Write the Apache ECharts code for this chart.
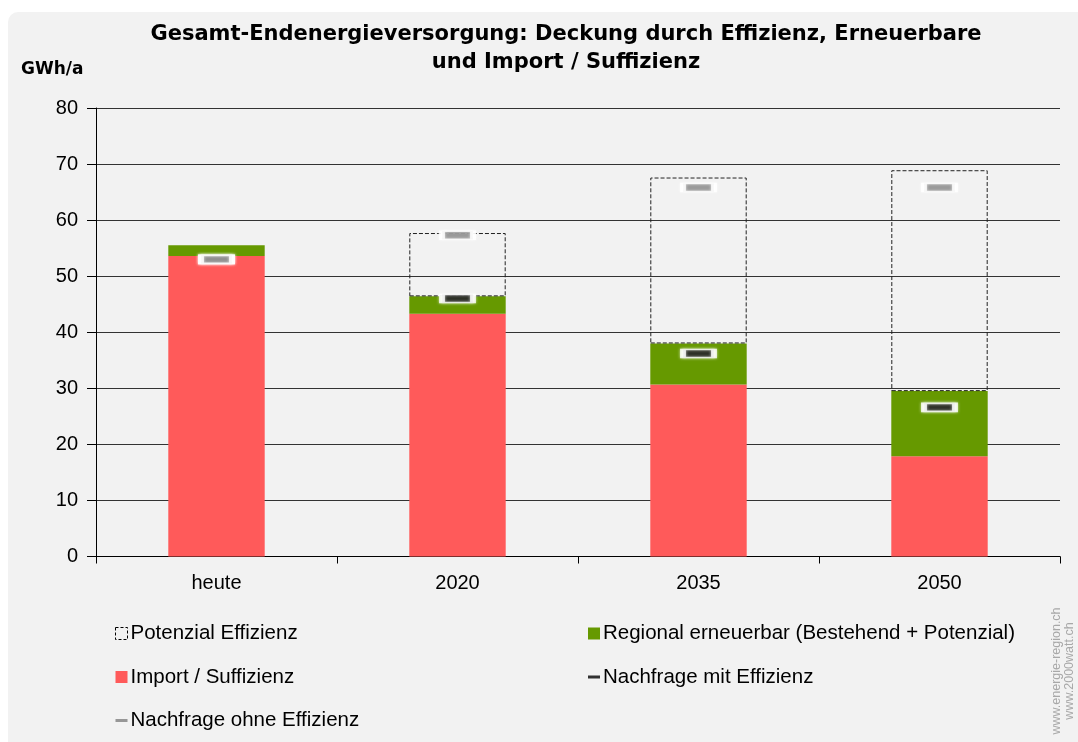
<!DOCTYPE html>
<html>
<head>
<meta charset="utf-8">
<script src="https://cdn.jsdelivr.net/npm/echarts@6/dist/echarts.min.js"></script>
<style>
  html, body { margin: 0; padding: 0; background: #fff; }
  #main { width: 1078px; height: 742px; }
</style>
</head>
<body>
<div id="main"></div>
<script>
const categories = ["heute", "2020", "2035", "2050"];
const importSuff = [53.6, 43.3, 30.7, 17.9];
const regional = [1.9, 3.1, 7.3, 11.6];
const potenzial = ["-", 11.3, 29.6, 39.4];
const nachfrageMit = [53.0, 46.0, 36.2, 26.6];
const nachfrageOhne = [53.0, 57.3, 65.8, 65.8];
const yTicks = [0, 10, 20, 30, 40, 50, 60, 70, 80];

let chartDom = document.getElementById("main");
let myChart = echarts.init(chartDom);
let option;

const font = "'Liberation Sans', Arial, sans-serif";
const wideFont = "'DejaVu Sans', 'Liberation Sans', sans-serif";
const markerStyle = function (color) {
  return {
    color: color,
    borderColor: "#fff",
    borderWidth: 3,
    shadowColor: "rgba(255,255,255,0.9)",
    shadowBlur: 3,
  };
};
const legendText = { fontFamily: font, fontSize: 20.5, color: "#000", padding: [0, 0, 0, -2] };

option = {
  backgroundColor: "#fff",
  textStyle: { fontFamily: font },
  graphic: [
    {
      type: "rect",
      z: -10,
      shape: { x: 8, y: 12, width: 1090, height: 760, r: 10 },
      style: { fill: "#f2f2f2" },
      silent: true,
    },
    {
      type: "text",
      left: 21,
      top: 61,
      style: {
        text: "GWh/a",
        font: "bold 17px " + wideFont,
        fill: "#000",
      },
    },
    {
      type: "text",
      x: 1057,
      y: 671,
      rotation: Math.PI / 2,
      style: {
        text: "www.energie-region.ch",
        font: "12.5px " + font,
        fill: "#a8a8a8",
        align: "center",
        verticalAlign: "middle",
      },
    },
    {
      type: "text",
      x: 1070,
      y: 671,
      rotation: Math.PI / 2,
      style: {
        text: "www.2000watt.ch",
        font: "12.5px " + font,
        fill: "#a8a8a8",
        align: "center",
        verticalAlign: "middle",
      },
    },
  ],
  title: {
    text: "Gesamt-Endenergieversorgung: Deckung durch Effizienz, Erneuerbare\nund Import / Suffizienz",
    left: 561,
    top: 16,
    textAlign: "center",
    textStyle: {
      fontFamily: wideFont,
      fontSize: 21,
      fontWeight: "bold",
      color: "#000",
      lineHeight: 28,
    },
  },
  legend: [
    {
      left: 115,
      top: 623,
      padding: 0,
      orient: "vertical",
      itemGap: 22.5,
      itemWidth: 12,
      itemHeight: 12,
      textStyle: legendText,
      data: [
        {
          name: "Potenzial Effizienz",
          icon: "rect",
          itemStyle: { color: "transparent", borderColor: "#000", borderWidth: 1, borderType: [3, 2] },
        },
        { name: "Import / Suffizienz", icon: "rect", itemStyle: { color: "#ff5a5a", borderWidth: 0 } },
        {
          name: "Nachfrage ohne Effizienz",
          icon: "path://M0,0h12v3h-12z",
          itemStyle: { color: "#808080", borderWidth: 0, shadowBlur: 0 },
        },
      ],
    },
    {
      left: 588,
      top: 623,
      padding: 0,
      orient: "vertical",
      itemGap: 22.5,
      itemWidth: 12,
      itemHeight: 12,
      textStyle: legendText,
      data: [
        {
          name: "Regional erneuerbar (Bestehend + Potenzial)",
          icon: "rect",
          itemStyle: { color: "#669900", borderWidth: 0 },
        },
        {
          name: "Nachfrage mit Effizienz",
          icon: "path://M0,0h12v3h-12z",
          itemStyle: { color: "#000", borderWidth: 0, shadowBlur: 0 },
        },
      ],
    },
  ],
  grid: {
    left: 96,
    right: 18,
    top: 108,
    bottom: 185.5,
  },
  xAxis: [
    {
      type: "category",
      data: categories,
      axisLine: { lineStyle: { color: "#000", width: 1 } },
      axisTick: { show: true, alignWithLabel: false, length: 7, lineStyle: { color: "#000" } },
      axisLabel: { fontFamily: font, fontSize: 20, color: "#000", margin: 17 },
    },
  ],
  yAxis: [
    {
      type: "value",
      min: yTicks[0],
      max: yTicks[yTicks.length - 1],
      interval: 10,
      axisLine: { show: true, lineStyle: { color: "#000", width: 1 } },
      axisTick: { show: true, length: 9, lineStyle: { color: "#000" } },
      axisLabel: { fontFamily: font, fontSize: 20, color: "#000", margin: 18 },
      splitLine: { lineStyle: { color: "#333", width: 1 } },
    },
  ],
  series: [
    {
      name: "Import / Suffizienz",
      type: "bar",
      stack: "total",
      barWidth: "40%",
      itemStyle: { color: "#ff5a5a" },
      data: importSuff,
    },
    {
      name: "Regional erneuerbar (Bestehend + Potenzial)",
      type: "bar",
      stack: "total",
      itemStyle: { color: "#669900" },
      data: regional,
    },
    {
      name: "Potenzial Effizienz",
      type: "bar",
      stack: "total",
      itemStyle: {
        color: "transparent",
        borderColor: "#222",
        borderWidth: 1,
        borderType: [4, 2],
      },
      data: potenzial,
    },
    {
      name: "Nachfrage mit Effizienz",
      type: "scatter",
      symbol: "rect",
      symbolSize: [31, 8],
      z: 5,
      itemStyle: markerStyle("#000"),
      data: nachfrageMit,
    },
    {
      name: "Nachfrage ohne Effizienz",
      type: "scatter",
      symbol: "rect",
      symbolSize: [31, 8],
      z: 6,
      itemStyle: markerStyle("#808080"),
      data: nachfrageOhne,
    },
  ],
};

option && myChart.setOption(option);
</script>
</body>
</html>
